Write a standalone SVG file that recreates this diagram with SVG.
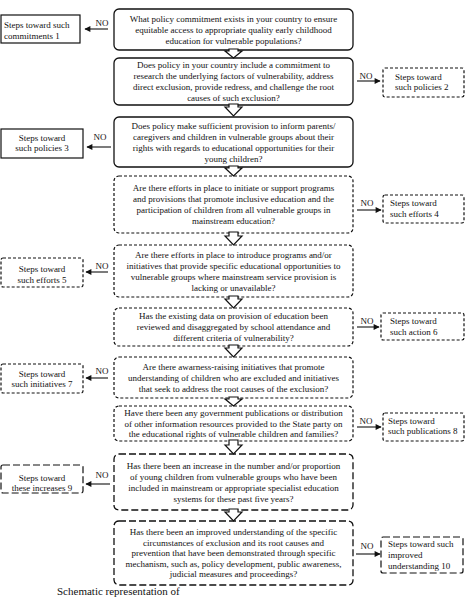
<svg xmlns="http://www.w3.org/2000/svg" width="465" height="597" viewBox="0 0 465 597">
<defs>
<style>
text{font-family:"Liberation Serif","Times New Roman",serif;font-size:9px;fill:#111}
.c{text-anchor:middle}
.q{fill:#fff;stroke:#111;stroke-width:1.3}
.d{stroke-dasharray:3 2;stroke-width:1.2}
.l{stroke-dasharray:7 3;stroke-width:1.3}
.s{fill:#fff;stroke:#111;stroke-width:1.2}
.a{stroke:#111;stroke-width:1.1;fill:none}
.da{fill:#fff;stroke:#111;stroke-width:1.2}
.cap{font-size:11px}
</style>
<marker id="ah" viewBox="0 0 10 10" refX="9" refY="5" markerWidth="7" markerHeight="6" markerUnits="userSpaceOnUse" orient="auto"><path d="M0,0 L10,5 L0,10 Z" fill="#111"/></marker>
</defs>
<rect width="465" height="597" fill="#fff"/>

<g id="q1"><rect class="q" x="114" y="9" width="239" height="41" rx="5"/>
<text class="c" x="233.5" y="21.5">What policy commitment exists in your country to ensure</text>
<text class="c" x="233.5" y="32.5">equitable access to appropriate quality early childhood</text>
<text class="c" x="233.5" y="43.5">education for vulnerable populations?</text></g>

<g id="q2"><rect class="q" x="114" y="58" width="239" height="47" rx="5"/>
<text class="c" x="233.5" y="68">Does policy in your country include a commitment to</text>
<text class="c" x="233.5" y="79">research the underlying factors of vulnerability, address</text>
<text class="c" x="233.5" y="90">direct exclusion, provide redress, and challenge the root</text>
<text class="c" x="233.5" y="101">causes of such exclusion?</text></g>

<g id="q3"><rect class="q" x="114" y="117" width="239" height="50" rx="5"/>
<text class="c" x="233.5" y="128.5">Does policy make sufficient provision to inform parents/</text>
<text class="c" x="233.5" y="139.5">caregivers and children in vulnerable groups about their</text>
<text class="c" x="233.5" y="150.5">rights with regards to educational opportunities for their</text>
<text class="c" x="233.5" y="161.5">young children?</text></g>

<g id="q4"><rect class="q d" x="114" y="176" width="239" height="57" rx="5"/>
<text class="c" x="233.5" y="191">Are there efforts in place to initiate or support programs</text>
<text class="c" x="233.5" y="202">and provisions that promote inclusive education and the</text>
<text class="c" x="233.5" y="213">participation of children from all vulnerable groups in</text>
<text class="c" x="233.5" y="224">mainstream education?</text></g>

<g id="q5"><rect class="q d" x="114" y="245" width="239" height="52" rx="5"/>
<text class="c" x="233.5" y="257.5">Are there efforts in place to introduce programs and/or</text>
<text class="c" x="233.5" y="268.5">initiatives that provide specific educational opportunities to</text>
<text class="c" x="233.5" y="279.5">vulnerable groups where mainstream service provision is</text>
<text class="c" x="233.5" y="290.5">lacking or unavailable?</text></g>

<g id="q6"><rect class="q d" x="114" y="308" width="239" height="38" rx="5"/>
<text class="c" x="233.5" y="319">Has the existing data on provision of education been</text>
<text class="c" x="233.5" y="330">reviewed and disaggregated by school attendance and</text>
<text class="c" x="233.5" y="341">different criteria of vulnerability?</text></g>

<g id="q7"><rect class="q d" x="114" y="357" width="239" height="41" rx="5"/>
<text class="c" x="233.5" y="369.5">Are there awarness-raising initiatives that promote</text>
<text class="c" x="233.5" y="380.5">understanding of children who are excluded and initiatives</text>
<text class="c" x="233.5" y="391.5">that seek to address the root causes of the exclusion?</text></g>

<g id="q8"><rect class="q d" x="114" y="406" width="239" height="35" rx="5"/>
<text class="c" x="233.5" y="416">Have there been any government publications or distribution</text>
<text class="c" x="233.5" y="426.5">of other information resources provided to the State party on</text>
<text class="c" x="233.5" y="437">the educational rights of vulnerable children and families?</text></g>

<g id="q9"><rect class="q l" x="114" y="454" width="239" height="56" rx="5"/>
<text class="c" x="233.5" y="468.5">Has there been an increase in the number and/or proportion</text>
<text class="c" x="233.5" y="479.5">of young children from vulnerable groups  who have been</text>
<text class="c" x="233.5" y="490.5">included in mainstream or appropriate specialist education</text>
<text class="c" x="233.5" y="501.5">systems for these past five years?</text></g>

<g id="q10"><rect class="q l" x="114" y="521" width="239" height="64" rx="5"/>
<text class="c" x="233.5" y="535">Has there been an improved understanding of the specific</text>
<text class="c" x="233.5" y="545.5">circumstances of exclusion and its root causes and</text>
<text class="c" x="233.5" y="556">prevention that have been demonstrated through specific</text>
<text class="c" x="233.5" y="566.5">mechanism, such as, policy development, public awareness,</text>
<text class="c" x="233.5" y="577">judicial measures and proceedings?</text></g>

<g id="s1"><rect class="s" x="1" y="15" width="79" height="28"/>
<text x="4" y="28">Steps toward such</text><text x="4" y="38.5">commitments 1</text></g>
<g id="s2"><rect class="s d" x="383" y="68" width="81" height="29" rx="2"/>
<text x="395" y="80">Steps toward</text><text x="395" y="90">such policies 2</text></g>
<g id="s3"><rect class="s" x="1" y="129" width="82" height="29"/>
<text class="c" x="42" y="141">Steps toward</text><text class="c" x="42" y="151">such policies 3</text></g>
<g id="s4"><rect class="s d" x="383" y="195" width="81" height="28" rx="2"/>
<text x="390" y="206">Steps toward</text><text x="390" y="217">such efforts 4</text></g>
<g id="s5"><rect class="s d" x="1" y="258" width="82" height="29" rx="2"/>
<text class="c" x="42" y="272">Steps toward</text><text class="c" x="42" y="283">such efforts 5</text></g>
<g id="s6"><rect class="s d" x="381" y="313" width="83" height="27" rx="2"/>
<text x="390" y="324">Steps toward</text><text x="390" y="335">such action 6</text></g>
<g id="s7"><rect class="s d" x="1" y="364" width="82" height="29" rx="2"/>
<text class="c" x="42" y="377">Steps toward</text><text class="c" x="42" y="387">such initiatives 7</text></g>
<g id="s8"><rect class="s d" x="383" y="413" width="81" height="28" rx="2"/>
<text x="388" y="424">Steps toward</text><text x="388" y="434">such publications 8</text></g>
<g id="s9"><rect class="s l" x="1" y="465" width="82" height="28" rx="2"/>
<text class="c" x="42" y="481">Steps toward</text><text class="c" x="42" y="491">these increases 9</text></g>
<g id="s10"><rect class="s l" x="381" y="537" width="82" height="36" rx="2"/>
<text x="388" y="547">Steps toward such</text><text x="388" y="558">improved</text><text x="388" y="569">understanding 10</text></g>

<g id="connectors">
<path class="a" d="M108,29 H85" marker-end="url(#ah)"/><text class="c" x="102" y="26">NO</text>
<path class="a" d="M357,81 H380" marker-end="url(#ah)"/><text class="c" x="366" y="79">NO</text>
<path class="a" d="M111,147 H87" marker-end="url(#ah)"/><text class="c" x="100" y="140">NO</text>
<path class="a" d="M357,210 H381" marker-end="url(#ah)"/><text class="c" x="367" y="206">NO</text>
<path class="a" d="M108,272 H86" marker-end="url(#ah)"/><text class="c" x="102" y="269">NO</text>
<path class="a" d="M357,327 H379" marker-end="url(#ah)"/><text class="c" x="367" y="324">NO</text>
<path class="a" d="M108,378 H86" marker-end="url(#ah)"/><text class="c" x="102" y="374">NO</text>
<path class="a" d="M357,427 H381" marker-end="url(#ah)"/><text class="c" x="366" y="424">NO</text>
<path class="a" d="M110,484 H86" marker-end="url(#ah)"/><text class="c" x="102" y="478">NO</text>
<path class="a" d="M356,554 H380" marker-end="url(#ah)"/><text class="c" x="367" y="549">NO</text>
<polygon class="da" points="229,49 229,51 225,51 233.5,58 242,51 238,51 238,49"/>
<polygon class="da" points="229,104 229,107 225,107 233.5,116 242,107 238,107 238,104"/>
<polygon class="da" points="229,166 229,168 225,168 233.5,176 242,168 238,168 238,166"/>
<polygon class="da" points="229,232 229,236 225,236 233.5,245 242,236 238,236 238,232"/>
<polygon class="da" points="229,296 229,299 225,299 233.5,308 242,299 238,299 238,296"/>
<polygon class="da" points="229,345 229,348 225,348 233.5,357 242,348 238,348 238,345"/>
<polygon class="da" points="229,397 229,399 225,399 233.5,406 242,399 238,399 238,397"/>
<polygon class="da" points="229,440 229,445 225,445 233.5,454 242,445 238,445 238,440"/>
<polygon class="da" points="229,509 229,512 225,512 233.5,521 242,512 238,512 238,509"/>
</g>
<text class="cap" x="57" y="594.5">Schematic representation of</text>
</svg>
